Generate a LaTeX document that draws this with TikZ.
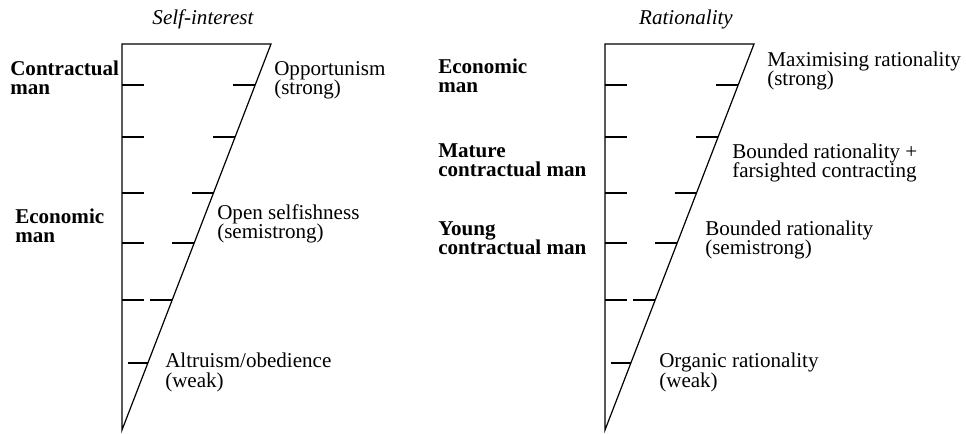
\documentclass[tikz,border=0pt]{standalone}
\usepackage{fontspec}
\setmainfont{Liberation Serif}
\usetikzlibrary{positioning}
\newcommand{\lblsize}{\fontsize{15.8}{14.6}\selectfont}
\tikzset{
  wedge/.style={line width=0.9pt,line join=miter},
  tickln/.style={line width=0.8pt},
  axttl/.style={font=\lblsize\itshape,inner sep=0pt},
  manlbl/.style={font=\lblsize\bfseries,align=left,anchor=base west,inner sep=0pt},
  levlbl/.style={font=\lblsize,align=left,anchor=base west,inner sep=0pt},
}
% one scale: wedge with its level ticks
\newcommand{\scalewedge}{%
  \draw[wedge] (0,44) -- (149,44) -- (0,430) -- cycle;
  \draw[tickln] (0,85) -- (22,85) (111.2,85) -- (133.2,85);
  \draw[tickln] (0,137) -- (22,137) (91.1,137) -- (113.1,137);
  \draw[tickln] (0,193) -- (22,193) (69.5,193) -- (91.5,193);
  \draw[tickln] (0,243) -- (22,243) (50.2,243) -- (72.2,243);
  \draw[tickln] (0,300) -- (22,300) (28.2,300) -- (50.2,300);
  \draw[tickln] (5.5,363) -- (25.9,363);
}
\begin{document}
\begin{tikzpicture}[x=0.75pt,y=-0.75pt]
  \useasboundingbox (0,0) rectangle (966,434);
  \begin{scope}[shift={(122,0)}] \scalewedge \end{scope}
  \begin{scope}[shift={(605,0)}] \scalewedge \end{scope}
  % self-interest scale
  \node[axttl] (selfint) at (203,19) {Self-interest};
  \node[manlbl] (contrman) at (10,95) {Contractual\\man};
  \node[manlbl] (econmanl) at (15,243) {Economic\\man};
  \node[levlbl] (opport) at (274,95) {Opportunism\\(strong)};
  \node[levlbl] (openself) at (217,239) {Open selfishness\\(semistrong)};
  \node[levlbl] (altru) at (165,387) {Altruism/obedience\\(weak)};
  % rationality scale
  \node[axttl] (ration) at (686,19) {Rationality};
  \node[manlbl] (econmanr) at (438,93) {Economic\\man};
  \node[manlbl] (mature) at (438,177) {Mature\\contractual man};
  \node[manlbl] (young) at (438,255) {Young\\contractual man};
  \node[levlbl] (maxrat) at (767,86) {Maximising rationality\\(strong)};
  \node[levlbl] (farsight) at (732,178) {Bounded rationality +\\farsighted contracting};
  \node[levlbl] (bounded) at (705,255) {Bounded rationality\\(semistrong)};
  \node[levlbl] (organic) at (659,387) {Organic rationality\\(weak)};
\end{tikzpicture}
\end{document}
